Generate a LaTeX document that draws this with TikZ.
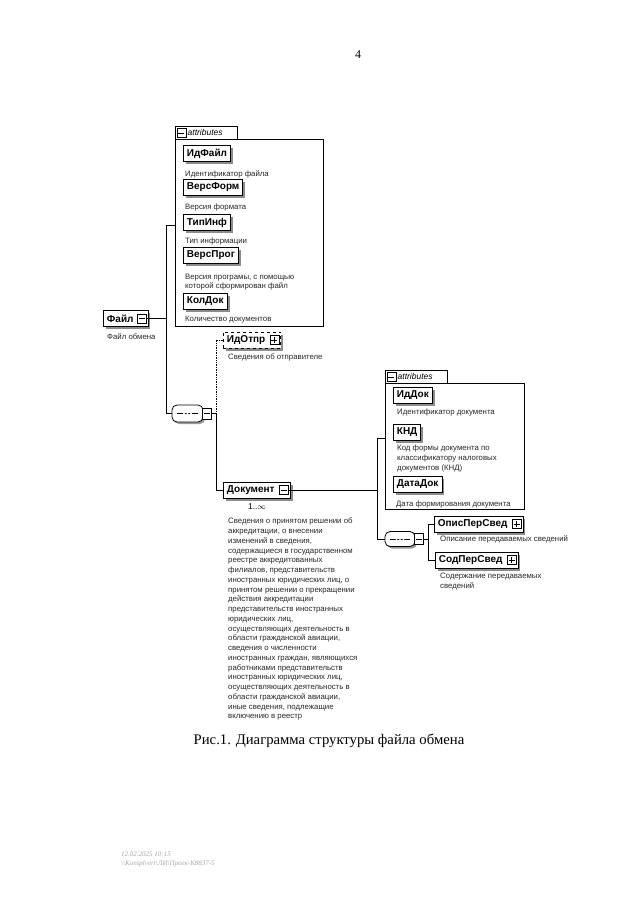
\documentclass[tikz,border=0pt]{standalone}
\usepackage{fontspec}
\setmainfont{Liberation Serif}
\setsansfont{Liberation Sans}
\usetikzlibrary{shadows}

\begin{document}
\begin{tikzpicture}[x=1pt,y=-1pt,
  elem/.style={draw,line width=0.8pt,fill=white,anchor=west,minimum height=16pt,inner xsep=3.5pt,inner ysep=1pt,
    font=\sffamily\bfseries\fontsize{10}{11}\selectfont,
    drop shadow={shadow xshift=2.5pt,shadow yshift=-2.5pt,fill=black!45,opacity=1}},
  desc/.style={anchor=north west,align=left,inner sep=0pt,text=black!85,font=\sffamily\fontsize{7.8}{9.75}\selectfont},
  minusbox/.style={draw,line width=0.6pt,fill=white,minimum size=9pt,inner sep=0pt,anchor=east,
    path picture={\draw ([xshift=1.5pt]path picture bounding box.west) -- ([xshift=-1.5pt]path picture bounding box.east);}},
  plusbox/.style={draw,line width=0.6pt,fill=white,minimum size=9pt,inner sep=0pt,anchor=east,
    path picture={\draw ([xshift=1.5pt]path picture bounding box.west) -- ([xshift=-1.5pt]path picture bounding box.east);
      \draw ([yshift=-1.5pt]path picture bounding box.north) -- ([yshift=1.5pt]path picture bounding box.south);}},
  seqbox/.style={draw,line width=0.8pt,fill=white,rounded corners=5pt,minimum width=31pt,minimum height=17pt,
    drop shadow={shadow xshift=2pt,shadow yshift=-2pt,fill=black!40,opacity=1},
    path picture={\draw ([xshift=5pt]path picture bounding box.west) -- ([xshift=-5pt]path picture bounding box.east);
      \foreach \d in {-3.5,0,3.5} \fill ([xshift=\d pt]path picture bounding box.center) circle (1pt);}},
  attrbox/.style={draw,line width=0.7pt,anchor=north west,inner sep=0pt},
  tab/.style={anchor=south west,minimum height=12pt,minimum width=62pt,inner xsep=1pt,text width=59pt,
    font=\sffamily\itshape\fontsize{8.5}{9}\selectfont},
  wire/.style={line width=0.7pt}
]
\useasboundingbox (0,0) rectangle (640,905);

\node[font=\fontsize{12}{13}\selectfont] (page) at (358,55) {4};

% attributes of the file
\node[attrbox,minimum width=148pt,minimum height=187pt] (attr1) at (175,139) {};
\node[tab] (tab1) at (175,139) {};
\draw[line width=0.7pt,fill=white] (attr1.north west) |- (tab1.north east) -- (tab1.south east);
\node[tab] at (175,139) {\kern11pt attributes};
\node[minusbox,anchor=west] (tab1m) at ([xshift=1.5pt]tab1.west) {};

\node[elem] (idfajl) at (183,153.5) {ИдФайл};
\node[desc] at (185,171) {Идентификатор файла};
\node[elem] (versform) at (183,187.5) {ВерсФорм};
\node[desc] at (185,204) {Версия формата};
\node[elem] (tipinf) at (183,222.5) {ТипИнф};
\node[desc] at (185,238) {Тип информации};
\node[elem] (versprog) at (183,255.5) {ВерсПрог};
\node[desc] at (185,273.5) {Версия програмы, с помощью\\которой сформирован файл};
\node[elem] (koldok) at (183,301) {КолДок};
\node[desc] at (185,316) {Количество документов};

% root
\node[elem] (fajl) at (103,318.5) {Файл\kern11pt};
\node[minusbox] (fajlm) at ([xshift=-2pt]fajl.east) {};
\node[desc] at (107,334) {Файл обмена};

\coordinate (j1t) at (166,225);
\coordinate (j1b) at (166,413.5);
\draw[wire] (fajlm.east) -- (j1t |- fajlm.east);
\draw[wire] (j1t) -- (j1b);
\draw[wire] (j1t) -- (j1t -| attr1.west);

\node[seqbox] (seq1) at (187.5,413.5) {};
\node[minusbox,anchor=west,minimum width=9pt,minimum height=11pt] (seq1m) at ([xshift=-1pt]seq1.east) {};
\draw[wire] (j1b) -- (seq1.west);

\coordinate (j2) at (216,413.5);
\draw[wire] (seq1m.east) -- (j2);

\node[elem,dashed,line width=0.9pt] (idotpr) at (223,340) {ИдОтпр\kern12pt};
\node[plusbox] (idotprp) at ([xshift=-2pt]idotpr.east) {};
\node[desc] at (228,354) {Сведения об отправителе};
\draw[wire,densely dotted,line width=0.9pt] (j2) |- (idotpr.west);

\node[elem] (dokument) at (223,490) {Документ\kern12pt};
\node[minusbox] (dokumentm) at ([xshift=-2pt]dokument.east) {};
\node[font=\sffamily\fontsize{8.5}{9}\selectfont] (kratn) at (257,507) {1..$\infty$};
\node[desc] at (228,518) {Сведения о принятом решении об\\аккредитации, о внесении\\изменений в сведения,\\содержащиеся в государственном\\реестре аккредитованных\\филиалов, представительств\\иностранных юридических лиц, о\\принятом решении о прекращении\\действия аккредитации\\представительств иностранных\\юридических лиц,\\осуществляющих деятельность в\\области гражданской авиации,\\сведения о численности\\иностранных граждан, являющихся\\работниками представительств\\иностранных юридических лиц,\\осуществляющих деятельность в\\области гражданской авиации,\\иные сведения, подлежащие\\включению в реестр};
\draw[wire] (j2) |- (dokument.west);

% attributes of the document
\node[attrbox,minimum width=139pt,minimum height=126pt] (attr2) at (385,383) {};
\node[tab] (tab2) at (385,383) {};
\draw[line width=0.7pt,fill=white] (attr2.north west) |- (tab2.north east) -- (tab2.south east);
\node[tab] at (385,383) {\kern11pt attributes};
\node[minusbox,anchor=west] (tab2m) at ([xshift=1.5pt]tab2.west) {};

\node[elem] (iddok) at (393,395.5) {ИдДок};
\node[desc] at (397,409) {Идентификатор документа};
\node[elem] (knd) at (393,432) {КНД};
\node[desc] at (397,445) {Код формы документа по\\классификатору налоговых\\документов (КНД)};
\node[elem] (datadok) at (393,484.5) {ДатаДок};
\node[desc] at (396,501) {Дата формирования документа};

\coordinate (j3t) at (377,438);
\coordinate (j3b) at (377,539);
\draw[wire] (dokumentm.east) -- (j3t |- dokumentm.east);
\draw[wire] (j3t) -- (j3b);
\draw[wire] (j3t) -- (j3t -| attr2.west);

\node[seqbox,minimum width=30pt,minimum height=15pt] (seq2) at (400,539) {};
\node[minusbox,anchor=west,minimum width=9pt,minimum height=11pt] (seq2m) at ([xshift=-1pt]seq2.east) {};
\draw[wire] (j3b) -- (seq2.west);

\coordinate (j4) at (428,539);
\draw[wire] (seq2m.east) -- (j4);

\node[elem] (opispersved) at (434,524) {ОписПерСвед\kern12pt};
\node[plusbox] (opispersvedp) at ([xshift=-2pt]opispersved.east) {};
\node[desc] at (440,536) {Описание передаваемых сведений};
\node[elem] (sodpersved) at (435,560) {СодПерСвед\kern12pt};
\node[plusbox] (sodpersvedp) at ([xshift=-2pt]sodpersved.east) {};
\node[desc] at (440,573) {Содержание передаваемых\\сведений};
\draw[wire] (j4) |- (opispersved.west);
\draw[wire] (j4) |- (sodpersved.west);

\node[font=\fontsize{14.7}{17}\selectfont] (caption) at (329,741) {Рис.1. Диаграмма структуры файла обмена};

\node[anchor=north west,align=left,inner sep=0pt,text=black!35,font=\itshape\fontsize{7}{9}\selectfont] (footer) at (121,852) {12.02.2025 10:15\\\textbackslash\textbackslash Konsplvert\textbackslash ЛИ\textbackslash Проек-К8837-5};
\end{tikzpicture}
\end{document}
